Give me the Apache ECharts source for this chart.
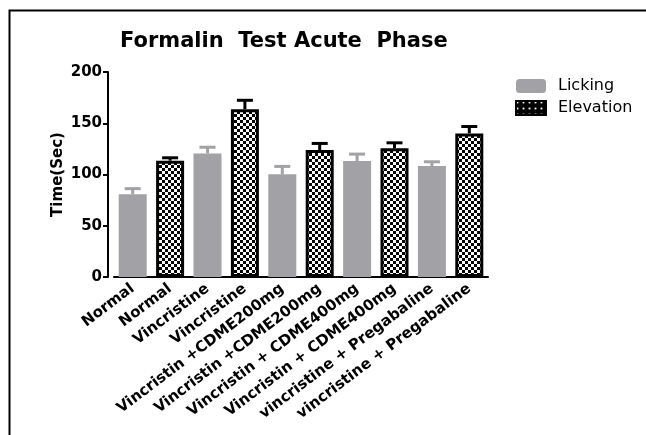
<!DOCTYPE html>
<html>
<head>
<meta charset="utf-8">
<script src="https://cdn.jsdelivr.net/npm/echarts@6/dist/echarts.min.js"></script>
<style>
html,body{margin:0;padding:0;background:#fff;}
#chart{width:646px;height:435px;}
</style>
</head>
<body>
<div id="chart"></div>
<script>
var categories = [
  'Normal', 'Normal',
  'Vincristine', 'Vincristine',
  'Vincristin +CDME200mg', 'Vincristin +CDME200mg',
  'Vincristin + CDME400mg', 'Vincristin + CDME400mg',
  'vincristine + Pregabaline', 'vincristine + Pregabaline'
];
var seriesNames = ['Licking', 'Elevation'];
var lickingValues = [80.7, null, 120.6, null, 100.2, null, 113.1, null, 108.3, null];
var lickingErrors = [5.5, null, 6, null, 7.7, null, 6.8, null, 4.1, null];
var elevationValues = [null, 113.5, null, 163.7, null, 123.9, null, 125.5, null, 140.1];
var elevationErrors = [null, 2.8, null, 8.7, null, 6.4, null, 5.4, null, 6.7];
var yTicks = [0, 50, 100, 150, 200];

var pat = document.createElement('canvas');
pat.width = 6; pat.height = 6;
var pc = pat.getContext('2d');
pc.fillStyle = '#ffffff'; pc.fillRect(0, 0, 6, 6);
pc.fillStyle = '#000000'; pc.fillRect(0, 0, 3, 3); pc.fillRect(3, 3, 3, 3);

var GRAY = '#a2a2a6';

function errData(vals, errs) {
  var out = [];
  for (var i = 0; i < vals.length; i++) {
    if (vals[i] != null) out.push([i, vals[i], vals[i] + errs[i]]);
  }
  return out;
}
function errRender(color) {
  return function (params, api) {
    var base = api.coord([api.value(0), api.value(1)]);
    var top = api.coord([api.value(0), api.value(2)]);
    var half = 8;
    return {
      type: 'group',
      children: [
        { type: 'line', shape: { x1: base[0], y1: base[1], x2: top[0], y2: top[1] },
          style: { stroke: color, lineWidth: 3 } },
        { type: 'line', shape: { x1: top[0] - half, y1: top[1], x2: top[0] + half, y2: top[1] },
          style: { stroke: color, lineWidth: 3 } }
      ]
    };
  };
}

var chart = echarts.init(document.getElementById('chart'), null, { renderer: 'canvas' });
chart.setOption({
  animation: false,
  backgroundColor: '#ffffff',
  title: {
    text: 'Formalin  Test Acute  Phase',
    left: 115, top: 26,
    textStyle: { fontFamily: 'DejaVu Sans', fontWeight: 'bold', fontSize: 21, color: '#000' }
  },
  legend: {
    orient: 'vertical',
    left: 510, top: 73,
    itemWidth: 30, itemHeight: 14, itemGap: 6,
    textStyle: { fontFamily: 'DejaVu Sans', fontSize: 16, color: '#000', padding: [0, 0, 0, 7] },
    data: [
      { name: seriesNames[0], icon: 'roundRect', itemStyle: { color: GRAY, borderWidth: 0 } },
      { name: seriesNames[1], icon: 'rect', itemStyle: { color: '#000', borderColor: '#000', borderWidth: 2, decal: { symbol: 'rect', symbolSize: 0.6, color: '#fff', dashArrayX: [3, 3], dashArrayY: [3, 3] } } }
    ]
  },
  graphic: [
    { type: 'rect', silent: true, z: -1,
      shape: { x: 9.5, y: 10.5, width: 700, height: 500 },
      style: { fill: null, stroke: '#000', lineWidth: 2 } }
  ],
  grid: { left: 114, right: 158, top: 72, bottom: 158 },
  xAxis: {
    type: 'category',
    data: categories,
    axisLine: { lineStyle: { color: '#000', width: 2 } },
    axisTick: { alignWithLabel: true, length: 5, lineStyle: { color: '#000', width: 2 } },
    axisLabel: {
      interval: 0, rotate: 37, margin: 10,
      fontFamily: 'DejaVu Sans', fontWeight: 'bold', fontSize: 15, color: '#000'
    }
  },
  yAxis: {
    type: 'value',
    min: yTicks[0], max: yTicks[yTicks.length - 1], interval: 50,
    offset: 6,
    name: 'Time(Sec)',
    nameLocation: 'middle',
    nameGap: 42,
    nameMoveOverlap: false,
    nameTextStyle: { fontFamily: 'DejaVu Sans', fontWeight: 'bold', fontSize: 15, color: '#000' },
    axisLine: { show: true, lineStyle: { color: '#000', width: 2 } },
    axisTick: { show: true, length: 5, lineStyle: { color: '#000', width: 2 } },
    axisLabel: { margin: 6, fontFamily: 'DejaVu Sans', fontWeight: 'bold', fontSize: 15, color: '#000' },
    splitLine: { show: false }
  },
  series: [
    {
      name: seriesNames[0], type: 'bar', data: lickingValues,
      barWidth: 28, barGap: '-100%',
      itemStyle: { color: GRAY }
    },
    {
      name: seriesNames[1], type: 'bar', data: elevationValues,
      barWidth: 28, barGap: '-100%',
      itemStyle: { color: { image: pat, repeat: 'repeat' }, borderColor: '#000', borderWidth: 3 }
    },
    {
      name: 'LickingErr', type: 'custom', data: errData(lickingValues, lickingErrors),
      renderItem: errRender(GRAY), z: 1, silent: true
    },
    {
      name: 'ElevationErr', type: 'custom', data: errData(elevationValues, elevationErrors),
      renderItem: errRender('#000'), z: 1, silent: true
    }
  ]
});
</script>
</body>
</html>
